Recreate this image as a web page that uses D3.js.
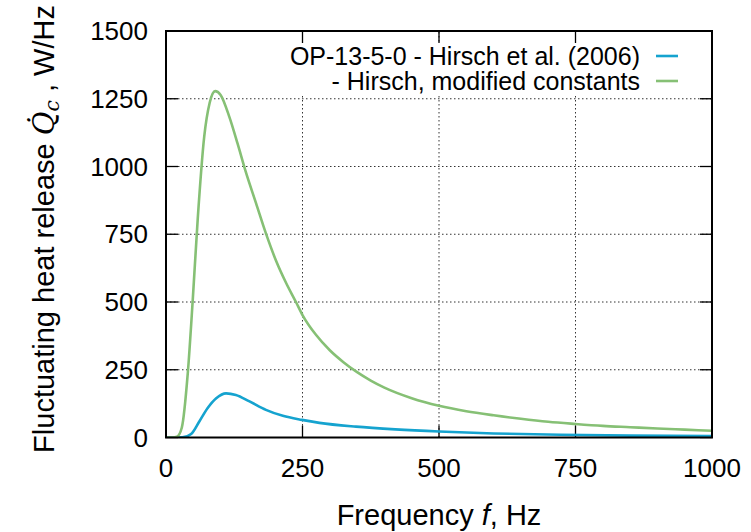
<!DOCTYPE html>
<html>
<head>
<meta charset="utf-8">
<script src="https://cdn.jsdelivr.net/npm/d3@7"></script>
<style>
  html, body { margin: 0; padding: 0; background: #fff; }
  svg { display: block; }
  text { font-family: "Liberation Sans", Arial, Helvetica, sans-serif; fill: #000; }
</style>
</head>
<body>
<svg id="chart" width="751" height="532"></svg>
<script>
// Frequency samples (Hz) and fluctuating heat release (W/Hz)
const freqA = [0, 20, 30, 46, 61, 76, 92, 110, 128, 153, 183, 214, 249, 281, 348, 420, 500, 600, 722, 850, 1000];
const qHirsch = [0, 0, 0.5, 13, 59, 108, 145, 163, 157, 133, 102, 80, 65, 54, 40, 30, 22, 15, 10, 7, 5];

const freqB = [0, 12, 20, 29, 40, 49, 58, 70, 80, 90, 100, 116, 131, 146, 165, 183, 201, 220, 238, 250, 275, 300, 325, 350, 375, 400, 450, 500, 550, 600, 650, 700, 750, 800, 850, 900, 950, 1000];
const qModified = [0, 0, 3, 37, 240, 508, 803, 1110, 1235, 1278, 1264, 1183, 1085, 981, 864, 753, 655, 570, 500, 452, 378, 322, 278, 241, 210, 184, 145, 117, 97, 82, 69, 58, 50, 43, 38, 33, 29, 25];

const xTicks = [0, 250, 500, 750, 1000];
const yTicks = [0, 250, 500, 750, 1000, 1250, 1500];

const seriesNames = ["OP-13-5-0 - Hirsch et al. (2006)", "- Hirsch, modified constants"];
const seriesColors = ["#15a3cf", "#86c075"];

(function () {
  const svg = d3.select("#chart");
  const pL = 166, pR = 712, pT = 31, pB = 437.5;

  const x = d3.scaleLinear().domain([0, 1000]).range([pL, pR]);
  const y = d3.scaleLinear().domain([0, 1500]).range([pB, pT]);

  const tickFS = 26, keyFS = 25, titleFS = 29;

  // dotted grid
  const grid = svg.append("g").attr("stroke", "#333").attr("stroke-width", 1).attr("stroke-dasharray", "1.5,2.5");
  xTicks.filter(t => t > 0 && t < 1000).forEach(t => {
    grid.append("line").attr("x1", x(t)).attr("x2", x(t)).attr("y1", pB).attr("y2", pT);
  });
  yTicks.filter(t => t > 0 && t < 1500).forEach(t => {
    grid.append("line").attr("x1", pL).attr("x2", pR).attr("y1", y(t)).attr("y2", y(t));
  });

  // opaque key background
  svg.append("rect").attr("x", 280).attr("y", 44).attr("width", 420).attr("height", 50).attr("fill", "#fff");

  // inward ticks on all four sides
  const tickLen = 12;
  const tickG = svg.append("g").attr("stroke", "#000").attr("stroke-width", 1.3);
  xTicks.forEach(t => {
    tickG.append("line").attr("x1", x(t)).attr("x2", x(t)).attr("y1", pB).attr("y2", pB - tickLen);
    tickG.append("line").attr("x1", x(t)).attr("x2", x(t)).attr("y1", pT).attr("y2", pT + tickLen);
  });
  yTicks.forEach(t => {
    tickG.append("line").attr("x1", pL).attr("x2", pL + tickLen).attr("y1", y(t)).attr("y2", y(t));
    tickG.append("line").attr("x1", pR).attr("x2", pR - tickLen).attr("y1", y(t)).attr("y2", y(t));
  });

  // tick labels
  svg.append("g").selectAll("text").data(xTicks).join("text")
    .attr("x", d => x(d)).attr("y", 477)
    .attr("text-anchor", "middle").attr("font-size", tickFS)
    .text(d => d);
  svg.append("g").selectAll("text").data(yTicks).join("text")
    .attr("x", 148).attr("y", d => y(d)).attr("dy", "0.35em")
    .attr("text-anchor", "end").attr("font-size", tickFS)
    .text(d => d);

  // curves
  svg.append("clipPath").attr("id", "plotclip").append("rect")
    .attr("x", pL).attr("y", pT).attr("width", pR - pL).attr("height", pB - pT);
  const line = d3.line().x(d => x(d[0])).y(d => y(d[1])).curve(d3.curveMonotoneX);
  const curves = [
    freqA.map((f, i) => [f, qHirsch[i]]),
    freqB.map((f, i) => [f, qModified[i]])
  ];
  curves.forEach((c, i) => {
    svg.append("path").datum(c).attr("d", line)
      .attr("fill", "none").attr("stroke", seriesColors[i]).attr("stroke-width", 2.6)
      .attr("stroke-linejoin", "round")
      .attr("clip-path", "url(#plotclip)");
  });

  // frame
  svg.append("rect").attr("x", pL).attr("y", pT).attr("width", pR - pL).attr("height", pB - pT)
    .attr("fill", "none").attr("stroke", "#000").attr("stroke-width", 2);

  // key
  const keyY = [56, 81];
  seriesNames.forEach((name, i) => {
    svg.append("text").attr("x", 640).attr("y", keyY[i]).attr("dy", "0.35em")
      .attr("text-anchor", "end").attr("font-size", keyFS).text(name);
    svg.append("line").attr("x1", 656).attr("x2", 678).attr("y1", keyY[i]).attr("y2", keyY[i])
      .attr("stroke", seriesColors[i]).attr("stroke-width", 2.6);
  });

  // axis titles
  const xt = svg.append("text").attr("x", 439).attr("y", 525).attr("text-anchor", "middle").attr("font-size", titleFS);
  xt.append("tspan").text("Frequency ");
  xt.append("tspan").attr("font-style", "italic").text("f");
  xt.append("tspan").text(", Hz");

  const yt = svg.append("text").attr("transform", "translate(54,229) rotate(-90)")
    .attr("text-anchor", "middle").attr("font-size", titleFS);
  yt.append("tspan").text("Fluctuating heat release ");
  yt.append("tspan").attr("font-family", "'DejaVu Serif', serif").attr("font-style", "italic").text("Q\u0307");
  yt.append("tspan").attr("font-family", "'DejaVu Serif', serif").attr("font-style", "italic")
    .attr("font-size", titleFS * 0.7).attr("dy", 5).text("c");
  yt.append("tspan").attr("dy", -5).text(" , W/Hz");
})();
</script>
</body>
</html>
